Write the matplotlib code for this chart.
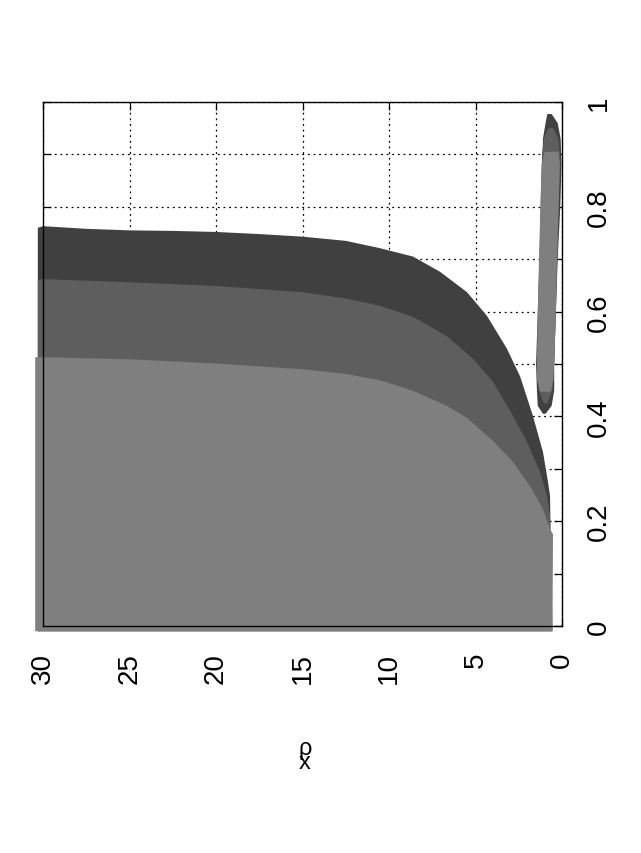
import numpy as np
import matplotlib
matplotlib.use("Agg")
import matplotlib.pyplot as plt
from matplotlib.ticker import MultipleLocator

plt.rcParams["font.family"] = ["Liberation Sans", "DejaVu Sans"]

LIGHT = "#7f7f7f"
MEDIUM = "#5e5e5e"
DARK = "#404040"

# upper edges of the three shaded bands (rho, x)
dark_rho = [30.3, 30, 27.5, 25, 22.5, 20, 17.5, 15, 12.5, 10.52, 8.61, 7.05,
            5.49, 4.34, 3.18, 2.43, 1.68, 1.10, 0.81, 0.69]
dark_x = [0.760, 0.763, 0.758, 0.755, 0.754, 0.752, 0.748, 0.743, 0.735,
          0.721, 0.705, 0.676, 0.637, 0.592, 0.529, 0.477, 0.401, 0.332, 0.275, 0.248]

medium_rho = [30.3, 30, 25, 20, 15, 12.5, 10.52, 8.61, 6.65, 5.14, 3.99, 2.83,
              2.02, 1.27, 0.87, 0.69]
medium_x = [0.660, 0.662, 0.656, 0.649, 0.637, 0.625, 0.611, 0.590, 0.553,
            0.510, 0.466, 0.401, 0.351, 0.294, 0.248, 0.210]

light_rho = [30.45, 30, 25, 20, 15, 12.5, 10.52, 8.61, 6.65, 5.49, 3.99, 2.83,
             1.85, 1.10, 0.69, 0.52]
light_x = [0.513, 0.513, 0.509, 0.501, 0.490, 0.481, 0.469, 0.449, 0.420, 0.397,
           0.353, 0.313, 0.267, 0.223, 0.185, 0.175]

# small island near rho ~ 0.7: x, right edge (small rho), left edge (large rho)
isl_dark_x = [0.405, 0.42, 0.45, 0.5, 0.6, 0.7, 0.8, 0.88, 0.93, 0.96, 0.977]
isl_dark_lo = [0.95, 0.6, 0.45, 0.45, 0.35, 0.25, 0.1, 0.03, 0.08, 0.25, 0.6]
isl_dark_hi = [1.1, 1.4, 1.45, 1.5, 1.4, 1.3, 1.2, 1.15, 1.1, 0.95, 0.85]

isl_med_x = [0.425, 0.45, 0.5, 0.7, 0.85, 0.9, 0.93, 0.95]
isl_med_lo = [0.85, 0.55, 0.45, 0.27, 0.15, 0.12, 0.2, 0.5]
isl_med_hi = [1.05, 1.35, 1.45, 1.3, 1.2, 1.15, 1.05, 0.8]

isl_light_x = [0.447, 0.47, 0.5, 0.6, 0.7, 0.8, 0.88, 0.905]
isl_light_lo = [0.65, 0.5, 0.46, 0.35, 0.29, 0.2, 0.12, 0.2]
isl_light_hi = [1.25, 1.45, 1.45, 1.4, 1.33, 1.25, 1.18, 1.0]

fig = plt.figure(figsize=(6.41, 8.54), dpi=100)
ax = fig.add_axes([43 / 641, 1 - 627 / 854, 519 / 641, 524 / 854])


def band(rho, x, color, right_rho, left_rho):
    px = list(rho) + [right_rho, right_rho, left_rho]
    py = list(x) + [0.0, -0.01, -0.01]
    ax.fill(px, py, color=color, lw=0, clip_on=False, zorder=2)


def island(x, lo, hi, color):
    px = list(lo) + list(hi)[::-1]
    py = list(x) + list(x)[::-1]
    ax.fill(px, py, color=color, lw=0, clip_on=False, zorder=3)


band(dark_rho, dark_x, DARK, 0.6, 30.3)
band(medium_rho, medium_x, MEDIUM, 0.55, 30.3)
band(light_rho, light_x, LIGHT, 0.55, 30.45)

island(isl_dark_x, isl_dark_lo, isl_dark_hi, DARK)
island(isl_med_x, isl_med_lo, isl_med_hi, MEDIUM)
island(isl_light_x, isl_light_lo, isl_light_hi, LIGHT)

ax.set_xlim(30, 0)
ax.set_ylim(0, 1)
ax.xaxis.set_major_locator(MultipleLocator(5))
ax.yaxis.set_minor_locator(MultipleLocator(0.1))
ax.set_yticks([0, 0.2, 0.4, 0.6, 0.8, 1.0])
ax.set_yticklabels(["0", "0.2", "0.4", "0.6", "0.8", "1"])

ax.set_axisbelow(True)
ax.grid(True, which="both", color="black", linestyle=(0, (1.5, 3)), linewidth=0.9)

ax.tick_params(axis="both", which="both", direction="in", top=True, bottom=True,
               left=True, right=True, labelleft=False, labelright=True,
               labelsize=20, width=0.9, length=6)
ax.tick_params(axis="x", pad=18.5)
ax.tick_params(axis="y", pad=17)
for lab in ax.get_xticklabels():
    lab.set_rotation(90)
for lab in ax.get_yticklabels():
    lab.set_rotation(90)
    lab.set_verticalalignment("center")

for sp in ax.spines.values():
    sp.set_linewidth(1.0)
    sp.set_zorder(5)

# axis label: rho with subscript x, drawn as in the (rotated) original
fig.text(305 / 641, 1 - 756 / 854, "ρ\nx", fontsize=17, ha="center", va="center",
         linespacing=0.55, multialignment="center")

fig.savefig("out.png", dpi=100)
